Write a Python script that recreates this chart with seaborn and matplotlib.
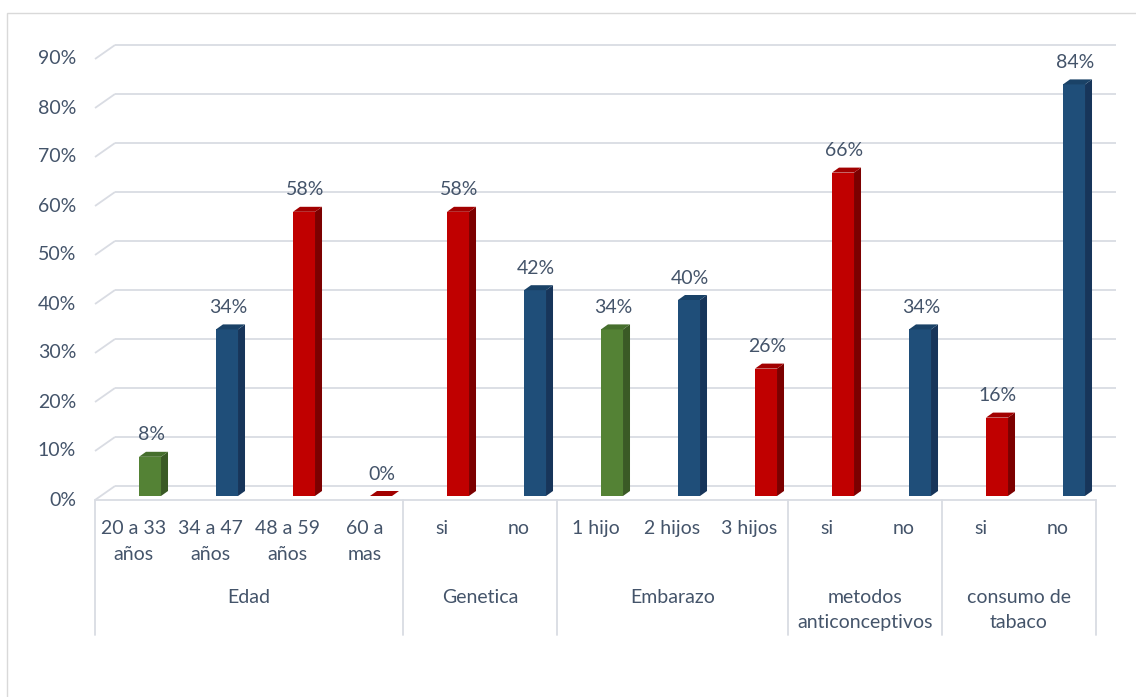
import numpy as np
import pandas as pd
import matplotlib
matplotlib.use("Agg")
import matplotlib.pyplot as plt
import seaborn as sns
from matplotlib.patches import Polygon, Rectangle

# ---------------- data ----------------
categories = ["20 a 33\naños", "34 a 47\naños", "48 a 59\naños", "60 a\nmas",
              "si", "no",
              "1 hijo", "2 hijos", "3 hijos",
              "si", "no",
              "si", "no"]
values = [8, 34, 58, 0, 58, 42, 34, 40, 26, 66, 34, 16, 84]
bar_colors = ["green", "blue", "red", "red",
              "red", "blue",
              "green", "blue", "red",
              "red", "blue",
              "red", "blue"]
groups = ["Edad", "Genetica", "Embarazo", "metodos\nanticonceptivos", "consumo de\ntabaco"]
group_sizes = [4, 2, 3, 2, 2]
y_ticks = [0, 10, 20, 30, 40, 50, 60, 70, 80, 90]
y_tick_labels = ["0%", "10%", "20%", "30%", "40%", "50%", "60%", "70%", "80%", "90%"]

# ---------------- style ----------------
FRONT = {"green": "#548235", "blue": "#1F4E79", "red": "#C00000"}
SIDE = {"green": "#3A5A25", "blue": "#17355A", "red": "#7C0000"}
TOP = {"green": "#466F2D", "blue": "#1A4267", "red": "#A20000"}
TEXT = "#44546A"
GRID = "#D9DCE3"
FS = 14

sns.set_theme(style="white")
plt.rcParams["font.family"] = ["Lato", "DejaVu Sans"]

W, H = 1136, 697
fig = plt.figure(figsize=(W / 100, H / 100), dpi=100)
ax = fig.add_axes([0, 0, 1, 1])

# pixel geometry of the pseudo-3D scene
BAR0_PX, STEP_PX, BASE_PY, PX_PER_PCT = 150.0, 77.0, 496.0, 4.9


def dxu(px):
    return px / STEP_PX


def dyu(px):
    return px / PX_PER_PCT


def py2y(py):
    return (BASE_PY - py) / PX_PER_PCT


n = len(values)
df = pd.DataFrame({"key": [f"c{i}" for i in range(n)], "value": values})
sns.barplot(data=df, x="key", y="value", hue="key",
            palette=[FRONT[c] for c in bar_colors], width=0.286,
            saturation=1, errorbar=None, legend=False, linewidth=0, ax=ax, zorder=3)

ax.set_xlim(-BAR0_PX / STEP_PX, (W - BAR0_PX) / STEP_PX)
ax.set_ylim((BASE_PY - H) / PX_PER_PCT, BASE_PY / PX_PER_PCT)
ax.axis("off")

# planes
FRONT_DX, FRONT_DY = dxu(-16.5), dyu(-4)
BACK_DX, BACK_DY = dxu(20), dyu(14)
left_front = -0.5 + FRONT_DX
right_front = n - 0.5 + FRONT_DX
left_back = left_front + BACK_DX
right_back = right_front + BACK_DX

for t, lab in zip(y_ticks, y_tick_labels):
    fy = t + FRONT_DY
    by = fy + BACK_DY
    ax.plot([left_front, left_back], [fy, by], color=GRID, lw=1.3, zorder=1,
            solid_capstyle="butt")
    ax.plot([left_back, right_back], [by, by], color=GRID, lw=1.3, zorder=1,
            solid_capstyle="butt")
    ax.text(left_front + dxu(-19), fy, lab, ha="right", va="center",
            fontsize=FS, color=TEXT)

# category axis box
y_axis_top = 0 + FRONT_DY
y_axis_bottom = py2y(635)
ax.plot([left_front, right_front], [y_axis_top, y_axis_top], color=GRID, lw=1.3, zorder=1)
bounds = np.concatenate([[0], np.cumsum(group_sizes)])
for b in bounds:
    xb = b - 0.5 + FRONT_DX
    ax.plot([xb, xb], [y_axis_top, y_axis_bottom], color=GRID, lw=1.3, zorder=1)

for i, cat in enumerate(categories):
    ax.text(i + FRONT_DX, py2y(520), cat, ha="center", va="top",
            fontsize=FS, color=TEXT, linespacing=1.62)
for g, (a, b) in zip(groups, zip(bounds[:-1], bounds[1:])):
    xc = (a + b - 1) / 2 + FRONT_DX
    ax.text(xc, py2y(589), g, ha="center", va="top",
            fontsize=FS, color=TEXT, linespacing=1.57)

# 3D faces + labels for each bar
DDX, DDY = dxu(7), dyu(5)
bars = sorted(ax.patches, key=lambda p: p.get_x())
for p, v, c in zip(bars, values, bar_colors):
    x0 = p.get_x()
    x1 = x0 + p.get_width()
    h = p.get_height()
    side = Polygon([(x1, 0), (x1 + DDX, DDY), (x1 + DDX, h + DDY), (x1, h)],
                   closed=True, facecolor=SIDE[c], edgecolor="none", zorder=3)
    top = Polygon([(x0, h), (x0 + DDX, h + DDY), (x1 + DDX, h + DDY), (x1, h)],
                  closed=True, facecolor=TOP[c], edgecolor="none", zorder=3)
    ax.add_patch(side)
    ax.add_patch(top)
    ax.text((x0 + x1) / 2 + dxu(1), h + dyu(22), f"{v}%", ha="center", va="center",
            fontsize=FS, color=TEXT)

# outer chart border
fig.add_artist(Rectangle((7 / W, -5 / H), 1140 / W, (H + 5 - 13) / H,
                         transform=fig.transFigure, fill=False,
                         edgecolor="#D9D9D9", lw=1.0))

fig.savefig("out.png", dpi=100)
